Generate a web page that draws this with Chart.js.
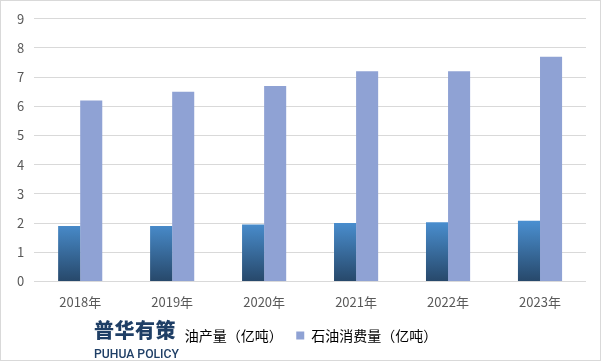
<!DOCTYPE html>
<html><head><meta charset="utf-8">
<script src="https://cdn.jsdelivr.net/npm/chart.js@4"></script>
<style>
html,body{margin:0;padding:0;background:#fff;}
#wrap{position:relative;width:599px;height:359px;border:1px solid #d9d9d9;}
#wm{position:absolute;left:93px;top:319px;font-family:"Noto Sans CJK SC";color:#1f3f66;line-height:1;background:#fff;padding-right:5px;}
#wm .a{font-size:20px;font-weight:900;letter-spacing:0.5px;}
#wm .b{font-family:"Roboto";font-size:12.2px;font-weight:500;margin-top:8px;}
</style></head><body>
<div id="wrap"><canvas id="c" width="599" height="359"></canvas>
<div id="wm"><div class="a">普华有策</div><div class="b">PUHUA POLICY</div></div></div>
<script>
const categories=["2018年","2019年","2020年","2021年","2022年","2023年"];
const production=[1.9,1.9,1.95,2.0,2.03,2.08];
const consumption=[6.2,6.5,6.7,7.2,7.2,7.7];
const seriesNames=["石油产量（亿吨）","石油消费量（亿吨）"];
const ctx=document.getElementById('c').getContext('2d');
function grad(chart){
  const a=chart.chartArea; if(!a) return '#3f7fbf';
  const g=chart.ctx.createLinearGradient(0,a.bottom,0,a.bottom-60);
  g.addColorStop(0,'#27486a');g.addColorStop(1,'#4a8fd0');return g;
}
new Chart(ctx,{type:'bar',
data:{labels:categories,datasets:[
 {label:seriesNames[0],data:production,backgroundColor:c=>grad(c.chart),categoryPercentage:0.48,barPercentage:1},
 {label:seriesNames[1],data:consumption,backgroundColor:'#8fa2d4',categoryPercentage:0.48,barPercentage:1}]},
options:{animation:false,responsive:false,maintainAspectRatio:false,
 layout:{padding:{left:6,right:14,top:10,bottom:7.5}},
 plugins:{tooltip:{enabled:false},
  legend:{position:'bottom',labels:{boxWidth:8,boxHeight:8,padding:13.5,color:'#595959',
   font:{family:'Noto Sans CJK SC',size:14},
   generateLabels:ch=>[{text:seriesNames[0],fillStyle:'#3f7fbf',strokeStyle:'#3f7fbf',lineWidth:0,datasetIndex:0},
     {text:seriesNames[1],fillStyle:'#8fa2d4',strokeStyle:'#8fa2d4',lineWidth:0,datasetIndex:1}]}}},
 scales:{
  x:{grid:{display:false},border:{display:false},ticks:{color:'#595959',font:{family:'Noto Sans CJK SC',size:13},padding:5}},
  y:{min:0,max:9,ticks:{stepSize:1,color:'#595959',font:{family:'Noto Sans CJK SC',size:13},padding:10},
     grid:{color:'#d9d9d9',drawTicks:false},border:{display:false}}}}});
</script></body></html>
